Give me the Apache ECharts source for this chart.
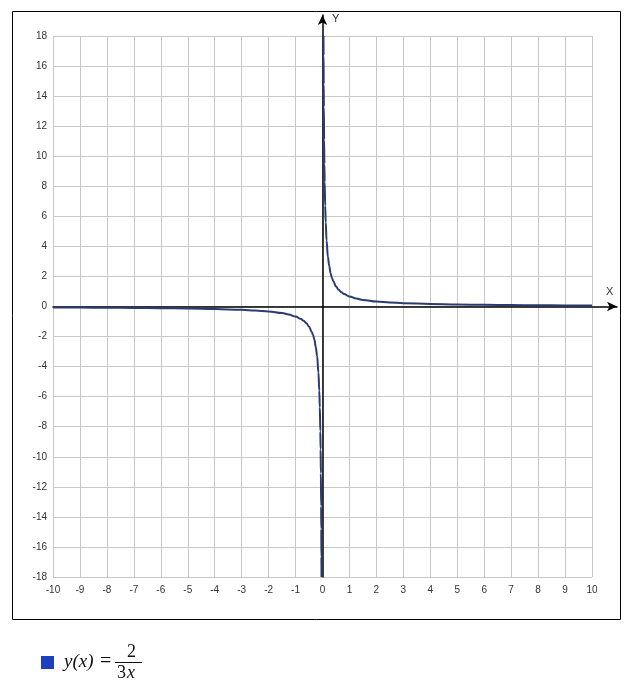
<!DOCTYPE html>
<html>
<head>
<meta charset="utf-8">
<script src="https://cdn.jsdelivr.net/npm/echarts@6/dist/echarts.min.js"></script>
<style>
html,body{margin:0;padding:0;background:#fff;}
#chart{width:628px;height:682px;}
</style>
</head>
<body>
<div id="chart"></div>
<script>
// Values (y = 2/(3x))
var rightX = [0.037, 0.04, 0.045, 0.05, 0.06, 0.07, 0.08, 0.1, 0.12, 0.15, 0.2, 0.25, 0.3, 0.35, 0.4, 0.5, 0.6, 0.7, 0.8, 1, 1.25, 1.5, 2, 2.5, 3, 4, 5, 6, 7, 8, 9, 10];
var rightY = [18, 16.7, 14.8, 13.3, 11.1, 9.5, 8.3, 6.7, 5.6, 4.4, 3.3, 2.7, 2.2, 1.9, 1.7, 1.33, 1.11, 0.95, 0.83, 0.67, 0.53, 0.44, 0.33, 0.27, 0.22, 0.17, 0.13, 0.11, 0.095, 0.083, 0.074, 0.067];
var leftX = [-10, -9, -8, -7, -6, -5, -4, -3, -2.5, -2, -1.5, -1.25, -1, -0.8, -0.7, -0.6, -0.5, -0.4, -0.35, -0.3, -0.25, -0.2, -0.15, -0.12, -0.1, -0.08, -0.07, -0.06, -0.05, -0.045, -0.04, -0.037];
var leftY = [-0.067, -0.074, -0.083, -0.095, -0.11, -0.13, -0.17, -0.22, -0.27, -0.33, -0.44, -0.53, -0.67, -0.83, -0.95, -1.11, -1.33, -1.7, -1.9, -2.2, -2.7, -3.3, -4.4, -5.6, -6.7, -8.3, -9.5, -11.1, -13.3, -14.8, -16.7, -18];
var xTicks = {min: -10, max: 10, step: 1};
var yTicks = {min: -18, max: 18, step: 2};
var curveName = 'y(x) = 2/(3x)';

function pairs(xs, ys) { return xs.map(function (x, i) { return [x, ys[i]]; }); }

var chart = echarts.init(document.getElementById('chart'), null, {renderer: 'canvas'});
var labelStyle = {color: '#333', fontSize: 10, fontFamily: 'Liberation Sans, Arial, sans-serif'};
var curveColor = '#2b3a70';

chart.setOption({
  animation: false,
  backgroundColor: '#fff',
  grid: [
    {left: 53, right: 36, top: 36, bottom: 105},
    {left: 53, right: 11, top: 15, bottom: 105}
  ],
  xAxis: [
    {
      type: 'value', gridIndex: 0, min: xTicks.min, max: xTicks.max, interval: xTicks.step,
      position: 'bottom',
      axisLine: {show: false, onZero: false},
      axisTick: {show: false},
      axisLabel: Object.assign({margin: 8}, labelStyle),
      splitLine: {show: true, lineStyle: {color: '#c8c8c8', width: 1}}
    },
    {
      type: 'value', gridIndex: 1, min: -10, max: 10.928,
      axisLine: {show: true, onZero: true, symbol: ['none', 'arrow'], symbolSize: [7, 10],
                 lineStyle: {color: '#000', width: 1.5}},
      axisTick: {show: false}, axisLabel: {show: false}, splitLine: {show: false}
    }
  ],
  yAxis: [
    {
      type: 'value', gridIndex: 0, min: yTicks.min, max: yTicks.max, interval: yTicks.step,
      axisLine: {show: false, onZero: false},
      axisTick: {show: false},
      axisLabel: Object.assign({margin: 6}, labelStyle),
      splitLine: {show: true, lineStyle: {color: '#c8c8c8', width: 1}}
    },
    {
      type: 'value', gridIndex: 1, min: -18, max: 19.397,
      axisLine: {show: true, onZero: true, symbol: ['none', 'arrow'], symbolSize: [7, 10],
                 lineStyle: {color: '#000', width: 1.5}},
      axisTick: {show: false}, axisLabel: {show: false}, splitLine: {show: false}
    }
  ],
  series: [
    {
      name: curveName, type: 'line', xAxisIndex: 0, yAxisIndex: 0,
      data: pairs(leftX, leftY), showSymbol: false, smooth: 0.4, smoothMonotone: 'x',
      clip: true, lineStyle: {color: curveColor, width: 2}, itemStyle: {color: curveColor}, z: 5
    },
    {
      name: curveName, type: 'line', xAxisIndex: 0, yAxisIndex: 0,
      data: pairs(rightX, rightY), showSymbol: false, smooth: 0.4, smoothMonotone: 'x',
      clip: true, lineStyle: {color: curveColor, width: 2}, itemStyle: {color: curveColor}, z: 5
    }
  ],
  graphic: [
    {type: 'rect', shape: {x: 12.5, y: 11.5, width: 608, height: 608},
     style: {fill: 'none', stroke: '#000', lineWidth: 1}, silent: true, z: 0},
    {type: 'text', left: 332, top: 13, style: {text: 'Y', fill: '#333', font: '11px Liberation Sans, Arial, sans-serif'}},
    {type: 'text', left: 606, top: 286, style: {text: 'X', fill: '#333', font: '11px Liberation Sans, Arial, sans-serif'}},
    {type: 'rect', shape: {x: 41, y: 656, width: 13, height: 13}, style: {fill: '#1e3fbf'}},
    {type: 'text', left: 64, top: 652, style: {text: 'y(x)', fill: '#111', font: 'italic 19px Liberation Serif, DejaVu Serif, serif'}},
    {type: 'text', left: 100, top: 652, style: {text: '=', fill: '#111', font: '20px Liberation Serif, DejaVu Serif, serif'}},
    {type: 'text', left: 127, top: 643, style: {text: '2', fill: '#111', font: '18px Liberation Serif, DejaVu Serif, serif'}},
    {type: 'line', shape: {x1: 115, y1: 662.5, x2: 142, y2: 662.5}, style: {stroke: '#111', lineWidth: 1}},
    {type: 'text', left: 117, top: 664, style: {text: '3', fill: '#111', font: '18px Liberation Serif, DejaVu Serif, serif'}},
    {type: 'text', left: 127, top: 664, style: {text: 'x', fill: '#111', font: 'italic 18px Liberation Serif, DejaVu Serif, serif'}}
  ]
});
</script>
</body>
</html>
